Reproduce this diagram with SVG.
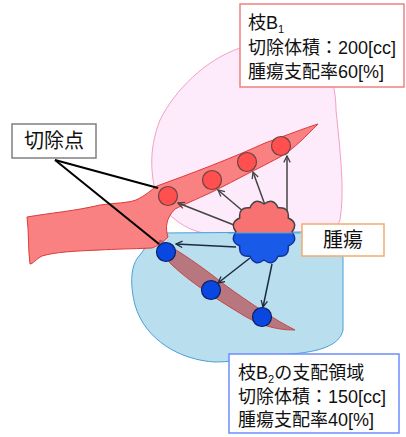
<svg xmlns="http://www.w3.org/2000/svg" width="406" height="437" viewBox="0 0 406 437">
  <style>
    .lbl { font-family: "Liberation Sans", "Noto Sans CJK JP", sans-serif; fill: #111; }
    .box { fill: #fff; stroke-width: 1.5; }
    .arrR { stroke: #444; stroke-width: 1.5; fill: none; marker-end: url(#headR); }
    .arrB { stroke: #1c2c40; stroke-width: 1.5; fill: none; marker-end: url(#headB); }
    .cut { stroke: #000; stroke-width: 2; fill: none; }
    .dotR { fill: #ff4f4f; stroke: #6a4444; stroke-width: 1.2; }
    .dotB { fill: #0a46e0; stroke: #0a2060; stroke-width: 1.2; }
  </style>
  <defs>
    <marker id="headR" viewBox="0 0 10 10" refX="9" refY="5" markerWidth="8" markerHeight="8" markerUnits="userSpaceOnUse" orient="auto">
      <path d="M1,1 L9,5 L1,9" fill="none" stroke="#444" stroke-width="1.6"/>
    </marker>
    <marker id="headB" viewBox="0 0 10 10" refX="9" refY="5" markerWidth="8" markerHeight="8" markerUnits="userSpaceOnUse" orient="auto">
      <path d="M1,1 L9,5 L1,9" fill="none" stroke="#1c2c40" stroke-width="1.6"/>
    </marker>
    <path id="tumorShape" d="M292,232 Q298.8,241.3 288.25,246 Q289.5,257.5 278,256.25 Q273.3,266.8 264,260 Q254.7,266.8 250,256.25 Q238.5,257.5 239.75,246 Q229.2,241.3 236,232 Q229.2,222.7 239.75,218 Q238.5,206.5 250,207.75 Q254.7,197.2 264,204 Q273.3,197.2 278,207.75 Q289.5,206.5 288.25,218 Q298.8,222.7 292,232 Z"/>
    <clipPath id="upperHalf"><rect x="220" y="190" width="90" height="43"/></clipPath>
    <clipPath id="lowerHalf"><rect x="220" y="233" width="90" height="45"/></clipPath>
  </defs>

  <!-- territories -->
  <g id="territory-b1">
    <path d="M160,205 C150,180 148,150 160,120 C175,90 205,60 240,48 L300,40 C330,50 336,90 336,110 C340,150 345,190 340,220 C336,232 320,234 300,234 L210,234 C190,232 175,222 160,205 Z" fill="#fdeafb" stroke="#f4a0c4" stroke-width="1"/>
  </g>
  <g id="territory-b2">
    <path d="M160,233 L300,232 C330,232 343,240 343,260 L343,330 C340,345 320,352 290,354 C260,356 240,362 215,362 C180,360 145,340 135,305 C130,285 130,265 140,255 C148,245 150,236 160,233 Z" fill="#b9deed" stroke="#4aa0d8" stroke-width="1"/>
  </g>

  <!-- vessels -->
  <g id="vessel-trunk">
    <path d="M27,217 C50,213 75,211 100,205 C115,203 128,203 136,200 C145,196 151,190 157,186 C190,174 230,159 265,143 C290,134 305,128 318,124 C305,137 295,148 280,157 C265,165 255,170 247,174 C230,183 220,188 212,192 C195,200 185,204 175,209 C166,218 165,228 168,237 C162,243 157,246 152,248 C130,249 115,249 100,250 C75,251 55,252 42,256 C36,259 33,264 30,264 C28,250 29,232 27,217 Z" fill="#f98181" stroke="#de3a3a" stroke-width="1"/>
  </g>
  <g id="vessel-b2">
    <path d="M160,240 C180,252 200,265 225,285 C250,303 275,320 295,330 C275,330 258,325 238,312 C215,298 190,282 172,265 C163,256 158,248 160,240 Z" fill="#b8777f" stroke="#c44848" stroke-width="1"/>
  </g>

  <!-- resection points -->
  <g id="points-b1">
    <circle class="dotR" cx="168" cy="196" r="9.5"/>
    <circle class="dotR" cx="212" cy="180" r="9.5"/>
    <circle class="dotR" cx="247" cy="162" r="9.5"/>
    <circle class="dotR" cx="281" cy="146" r="9.5"/>
  </g>
  <g id="points-b2">
    <circle class="dotB" cx="166" cy="252" r="9.5"/>
    <circle class="dotB" cx="211" cy="290" r="9.5"/>
    <circle class="dotB" cx="262" cy="317" r="9.5"/>
  </g>

  <!-- connectors -->
  <g id="connectors">
    <line class="arrR" x1="234" y1="225" x2="178" y2="203"/>
    <line class="arrR" x1="244" y1="212" x2="218" y2="190"/>
    <line class="arrR" x1="265" y1="205" x2="253" y2="172"/>
    <line class="arrR" x1="287" y1="214" x2="287" y2="156"/>
    <line class="arrB" x1="236" y1="247" x2="176" y2="244"/>
    <line class="arrB" x1="250" y1="258" x2="218" y2="283"/>
    <line class="arrB" x1="272" y1="264" x2="263" y2="307"/>
    <line class="cut" x1="55" y1="160" x2="158" y2="188"/>
    <line class="cut" x1="55" y1="160" x2="159" y2="244"/>
  </g>

  <!-- tumor: upper half fed by B1, lower half by B2 -->
  <g id="tumor">
    <use href="#tumorShape" clip-path="url(#upperHalf)" fill="#f87272" stroke="#444" stroke-width="1.5"/>
    <use href="#tumorShape" clip-path="url(#lowerHalf)" fill="#1a5ae8" stroke="#1230a0" stroke-width="1.5"/>
    <line x1="228" y1="233" x2="300" y2="233" stroke="#4aa0d8" stroke-width="1"/>
  </g>

  <!-- labels -->
  <g id="label-b1">
    <rect class="box" x="240" y="4" width="164" height="83" stroke="#f08080"/>
    <text class="lbl" x="248" y="29" font-size="18">枝B<tspan font-size="11" dy="4">1</tspan></text>
    <text class="lbl" x="248" y="54" font-size="18">切除体積：200[cc]</text>
    <text class="lbl" x="248" y="78" font-size="18">腫瘍支配率60[%]</text>
  </g>
  <g id="label-cut">
    <rect class="box" x="12" y="124" width="84" height="34" stroke="#808080"/>
    <text class="lbl" x="54" y="148" font-size="20" text-anchor="middle">切除点</text>
  </g>
  <g id="label-tumor">
    <rect class="box" x="302" y="224" width="82" height="32" stroke="#f4aa6a"/>
    <text class="lbl" x="343" y="247" font-size="20" text-anchor="middle">腫瘍</text>
  </g>
  <g id="label-b2">
    <rect class="box" x="229" y="354" width="170" height="79" stroke="#6f8cff"/>
    <text class="lbl" x="238" y="379" font-size="18">枝B<tspan font-size="11" dy="4">2</tspan><tspan dy="-4">の支配領域</tspan></text>
    <text class="lbl" x="238" y="403" font-size="18">切除体積：150[cc]</text>
    <text class="lbl" x="238" y="426" font-size="18">腫瘍支配率40[%]</text>
  </g>
</svg>
